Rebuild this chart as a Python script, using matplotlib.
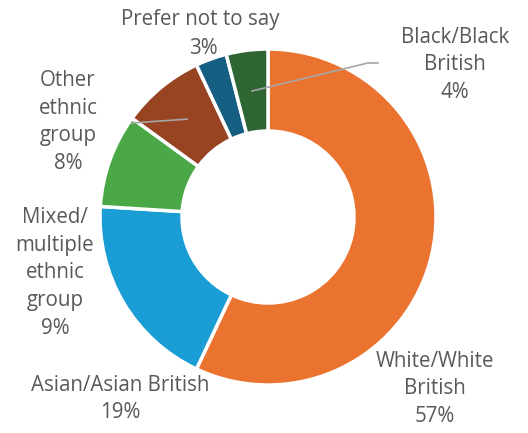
import numpy as np
import matplotlib.pyplot as plt

plt.rcParams['font.family'] = ['Open Sans', 'DejaVu Sans']

groups = ['White/White\nBritish', 'Asian/Asian British', 'Mixed/\nmultiple\nethnic\ngroup',
          'Other\nethnic\ngroup', 'Prefer not to say', 'Black/Black\nBritish']
shares = [57, 19, 9, 8, 3, 4]
colors = ['#EB7330', '#1A9CD4', '#4BA846', '#984422', '#156082', '#2E6533']

W, H = 528, 433
cx, cy = 268, H - 217
R = 168
ring = 82

fig = plt.figure(figsize=(W / 100, H / 100), dpi=100)
ax = fig.add_axes([0, 0, 1, 1])
wedges, _ = ax.pie(shares, colors=colors, startangle=90, counterclock=False,
                   center=(cx, cy), radius=R,
                   wedgeprops=dict(width=ring, edgecolor='white', linewidth=2.5))
ax.set_xlim(0, W)
ax.set_ylim(0, H)
ax.axis('off')

# label anchor positions in pixel space (x, y from top)
label_pos = [(435, 389), (120, 399), (55, 273), (68, 122), (203, 34), (455, 65)]
txt = dict(color='#595959', fontsize=14.8, ha='center', va='center', linespacing=1.42)
for name, val, (px, py) in zip(groups, shares, label_pos):
    if name == 'Prefer not to say':
        ax.text(200, H - 20, name, **txt)
        ax.text(203, H - 48, f'{val}%', **txt)
    else:
        ax.text(px, H - py, f'{name}\n{val}%', **txt)

# leader lines for the two small slices that carry them
def mid_point(w):
    ang = np.deg2rad((w.theta1 + w.theta2) / 2)
    rr = R - ring / 2
    return cx + rr * np.cos(ang), cy + rr * np.sin(ang)

x0, y0 = mid_point(wedges[5])
ax.plot([x0, 368, 378], [y0, H - 63, H - 63], color='#A6A6A6', lw=1.2)
x0, y0 = mid_point(wedges[3])
ax.plot([x0, 132], [y0, H - 123], color='#A6A6A6', lw=1.2)

fig.savefig('out.png', dpi=100)
